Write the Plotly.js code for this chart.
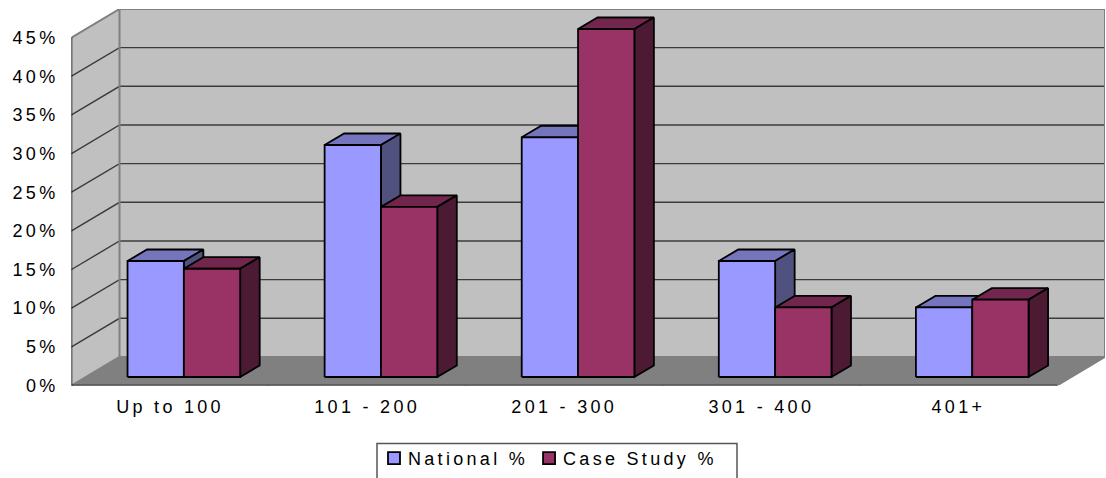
<!DOCTYPE html>
<html><head><meta charset="utf-8">
<script src="https://cdn.plot.ly/plotly-3.0.1.min.js"></script>
<style>
html,body{margin:0;padding:0;background:#fff;overflow:hidden}
#c{width:1106px;height:478px}
.xtick text,.ytick text,.legendtext{letter-spacing:3.3px}
.legendtext{transform:translateX(-6px)}
.legend .traces:nth-child(2) .legendtext{transform:translateX(-16px)}
.legend .traces:nth-child(2) .legendpoints{transform:translateX(-10px)}
</style></head><body><div id="c"></div>
<script>
const categories=["Up to 100","101 - 200","201 - 300","301 - 400","401+"];
const national=[15,30,31,15,9];
const caseStudy=[14,22,45,9,10];
const yTicks=[0,5,10,15,20,25,30,35,40,45];
const yLabels=yTicks.map(v=>v+"%");

// chart frame in pixels
const L=71.5,R=1105,T=9,B=385.5,H=478,W=1106;
const pxX=197, pxY=7.72;                 // pixels per category / per percent
const wallDx=48/pxX, wallDy=28.5/pxY;    // depth of whole box
const barStart=56/pxX, barW=56.3/pxX;    // first bar offset, bar width
const floorDy=8.5/pxY;                   // bars stand a little way into the floor
const barDx=19.5/pxX, barDy=11.5/pxY;    // depth of each bar
const n=categories.length, yMax=45;

function poly(list){const x=[],y=[];list.forEach(p=>{p.forEach(q=>{x.push(q[0]);y.push(q[1])});x.push(null);y.push(null)});return {x,y}}
function fillTrace(list,color,line,lw){const p=poly(list);return {type:'scatter',mode:'lines',x:p.x,y:p.y,fill:'toself',fillcolor:color,line:{color:line||color,width:lw===undefined?1:lw},hoverinfo:'skip',showlegend:false}}
function lineTrace(list,color,w){const p=poly(list);return {type:'scatter',mode:'lines',x:p.x,y:p.y,line:{color:color,width:w},hoverinfo:'skip',showlegend:false,connectgaps:false}}

const traces=[];
// walls and floor
traces.push(fillTrace([[[0,0],[wallDx,wallDy],[wallDx,yMax+wallDy],[0,yMax],[0,0]]],'#C0C0C0','#C0C0C0',0));
traces.push(fillTrace([[[wallDx,wallDy],[n+wallDx,wallDy],[n+wallDx,yMax+wallDy],[wallDx,yMax+wallDy],[wallDx,wallDy]]],'#C0C0C0','#C0C0C0',0));
traces.push(fillTrace([[[0,0],[n,0],[n+wallDx,wallDy],[wallDx,wallDy],[0,0]]],'#808080','#808080',0));
// gridlines
const gridTicks=yTicks.filter(v=>v>0&&v<45);
traces.push(lineTrace(gridTicks.map(v=>[[0,v],[wallDx,v+wallDy],[n+wallDx,v+wallDy]]),'#3c3c3c',1.4));
// wall borders
traces.push(lineTrace([[[0,yMax],[wallDx,yMax+wallDy],[n+wallDx,yMax+wallDy],[n+wallDx,wallDy],[n,0]],[[wallDx,yMax+wallDy],[wallDx,wallDy],[0,0]],[[wallDx,wallDy],[n+wallDx,wallDy]]],'#808080',2));

// bars
function box(vals,off,front,topC,side){
  const f=[],t=[],s=[];
  vals.forEach((v,i)=>{
    const x0=i+barStart+off*barW,x1=x0+barW,b=floorDy,h=v+floorDy;
    t.push([[x0,h],[x0+barDx,h+barDy],[x1+barDx,h+barDy],[x1,h],[x0,h]]);
    s.push([[x1,b],[x1+barDx,b+barDy],[x1+barDx,h+barDy],[x1,h],[x1,b]]);
    f.push([[x0,b],[x1,b],[x1,h],[x0,h],[x0,b]]);
  });
  traces.push(fillTrace(t,topC,'#000',1.8),fillTrace(s,side,'#000',1.8),fillTrace(f,front,'#000',1.8));
}
box(national,0,'#9999FF','#7575BE','#51517F');
box(caseStudy,1,'#993366','#73264D','#4D1A33');

// axis lines and tick marks
traces.push(lineTrace([[[0,yMax],[0,0],[n,0]]],'#000',1.5));
traces.push(lineTrace(yTicks.map(v=>[[-6/pxX,v],[0,v]]),'#000',1));
traces.push(lineTrace(categories.map((c,i)=>i).concat([n]).map(i=>[[i,0],[i,-6/pxY]]),'#000',1));

// legend entries
traces.push({type:'bar',x:[null],y:[null],name:'National %',marker:{color:'#9999FF',line:{color:'#000',width:1.8}},showlegend:true,hoverinfo:'skip'});
traces.push({type:'bar',x:[null],y:[null],name:'Case Study %',marker:{color:'#993366',line:{color:'#000',width:1.8}},showlegend:true,hoverinfo:'skip'});

const font={family:'"Liberation Sans",Arial,sans-serif',size:18,color:'#000'};
const layout={
  width:W,height:H,autosize:false,paper_bgcolor:'#fff',plot_bgcolor:'rgba(0,0,0,0)',
  margin:{l:0,r:0,t:0,b:0,pad:0},
  font:font,
  showlegend:true,
  legend:{orientation:'h',x:374/W,xanchor:'left',y:1/H,yanchor:'bottom',bgcolor:'rgba(0,0,0,0)',borderwidth:0,traceorder:'normal',font:font,itemclick:false,itemdoubleclick:false},
  xaxis:{domain:[L/W,R/W],range:[0,n+wallDx],tickmode:'array',tickvals:categories.map((c,i)=>i+0.5),ticktext:categories,ticks:'',showgrid:false,zeroline:false,showline:false,tickfont:font,ticklabelstandoff:8,fixedrange:true},
  yaxis:{domain:[(H-B)/H,(H-T)/H],range:[0,yMax+wallDy],tickmode:'array',tickvals:yTicks,ticktext:yLabels,ticks:'',showgrid:false,zeroline:false,showline:false,tickfont:font,ticklabelstandoff:12,fixedrange:true},
  shapes:[{type:'rect',xref:'paper',yref:'paper',x0:377/W,x1:737/W,y0:1-443.5/H,y1:-0.05,line:{color:'#555',width:1.5},fillcolor:'rgba(0,0,0,0)',layer:'above'}]
};
Plotly.newPlot('c',traces,layout,{displayModeBar:false,staticPlot:true});
</script></body></html>
